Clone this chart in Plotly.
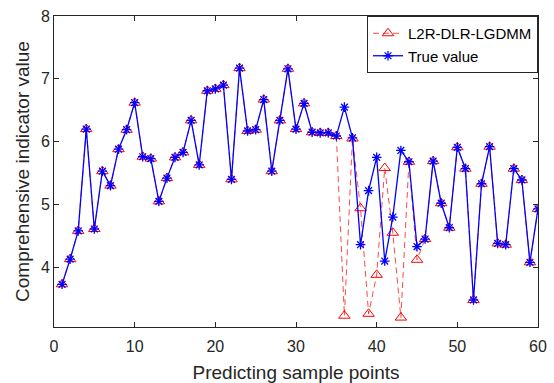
import plotly.graph_objects as go

x_points = list(range(1, 61))
true_value = [3.73, 4.13, 4.58, 6.20, 4.61, 5.53, 5.30, 5.88, 6.19, 6.62,
              5.76, 5.73, 5.05, 5.42, 5.75, 5.83, 6.34, 5.63, 6.81, 6.84,
              6.90, 5.40, 7.17, 6.17, 6.19, 6.67, 5.53, 6.34, 7.16, 6.20,
              6.61, 6.15, 6.14, 6.14, 6.09, 6.55, 6.06, 4.36, 5.22, 5.75,
              4.10, 4.80, 5.86, 5.68, 4.33, 4.45, 5.69, 5.02, 4.63, 5.91,
              5.57, 3.48, 5.33, 5.92, 4.38, 4.36, 5.57, 5.39, 4.08, 4.93]
predicted = [3.73, 4.13, 4.58, 6.20, 4.61, 5.53, 5.30, 5.88, 6.19, 6.62,
             5.76, 5.73, 5.05, 5.42, 5.75, 5.83, 6.34, 5.63, 6.81, 6.84,
             6.90, 5.40, 7.17, 6.17, 6.19, 6.67, 5.53, 6.34, 7.16, 6.20,
             6.61, 6.15, 6.14, 6.14, 6.09, 3.23, 6.05, 4.94, 3.26, 3.88,
             5.58, 4.55, 3.20, 5.68, 4.12, 4.45, 5.69, 5.02, 4.63, 5.91,
             5.57, 3.48, 5.33, 5.92, 4.38, 4.36, 5.57, 5.39, 4.08, 4.93]

fig = go.Figure()
fig.add_trace(go.Scatter(
    x=x_points, y=predicted, name="L2R-DLR-LGDMM", mode="lines+markers",
    line=dict(color="rgba(255,0,0,0.8)", width=0.9, dash="6px,4px"),
    marker=dict(symbol="triangle-up-open", size=10, color="#ff0000",
                line=dict(color="#ff0000", width=1)),
))
fig.add_trace(go.Scatter(
    x=x_points, y=true_value, name="True value", mode="lines+markers",
    line=dict(color="#0000ff", width=1.3),
    marker=dict(symbol="asterisk-open", size=8, color="#0000ff",
                line=dict(color="#0000ff", width=1.3)),
))

axis_common = dict(
    showline=True, linecolor="#262626", linewidth=1, mirror="ticks",
    ticks="inside", ticklen=5, tickcolor="#262626",
    showgrid=False, zeroline=False, automargin=False,
    tickfont=dict(family="Liberation Sans, Arial, sans-serif", size=16, color="#262626"),
)

fig.update_layout(
    width=554, height=383,
    margin=dict(l=54, r=16, t=16, b=56),
    paper_bgcolor="white", plot_bgcolor="white",
    font=dict(family="Liberation Sans, Arial, sans-serif", color="#262626"),
    xaxis=dict(range=[0, 60], dtick=10, tick0=0, ticklabelstandoff=5,
               title=dict(text="Predicting sample points", font=dict(size=19), standoff=14),
               **axis_common),
    yaxis=dict(range=[3.05, 8], dtick=1, tick0=4,
               title=dict(text="Comprehensive indicator value", font=dict(size=19), standoff=6),
               **axis_common),
    legend=dict(x=1, y=1, xanchor="right", yanchor="top",
                bgcolor="white", bordercolor="#262626", borderwidth=1,
                font=dict(size=15, color="#000000"),
                tracegroupgap=0, itemwidth=30),
    showlegend=True,
)

fig.write_html("out.html")
